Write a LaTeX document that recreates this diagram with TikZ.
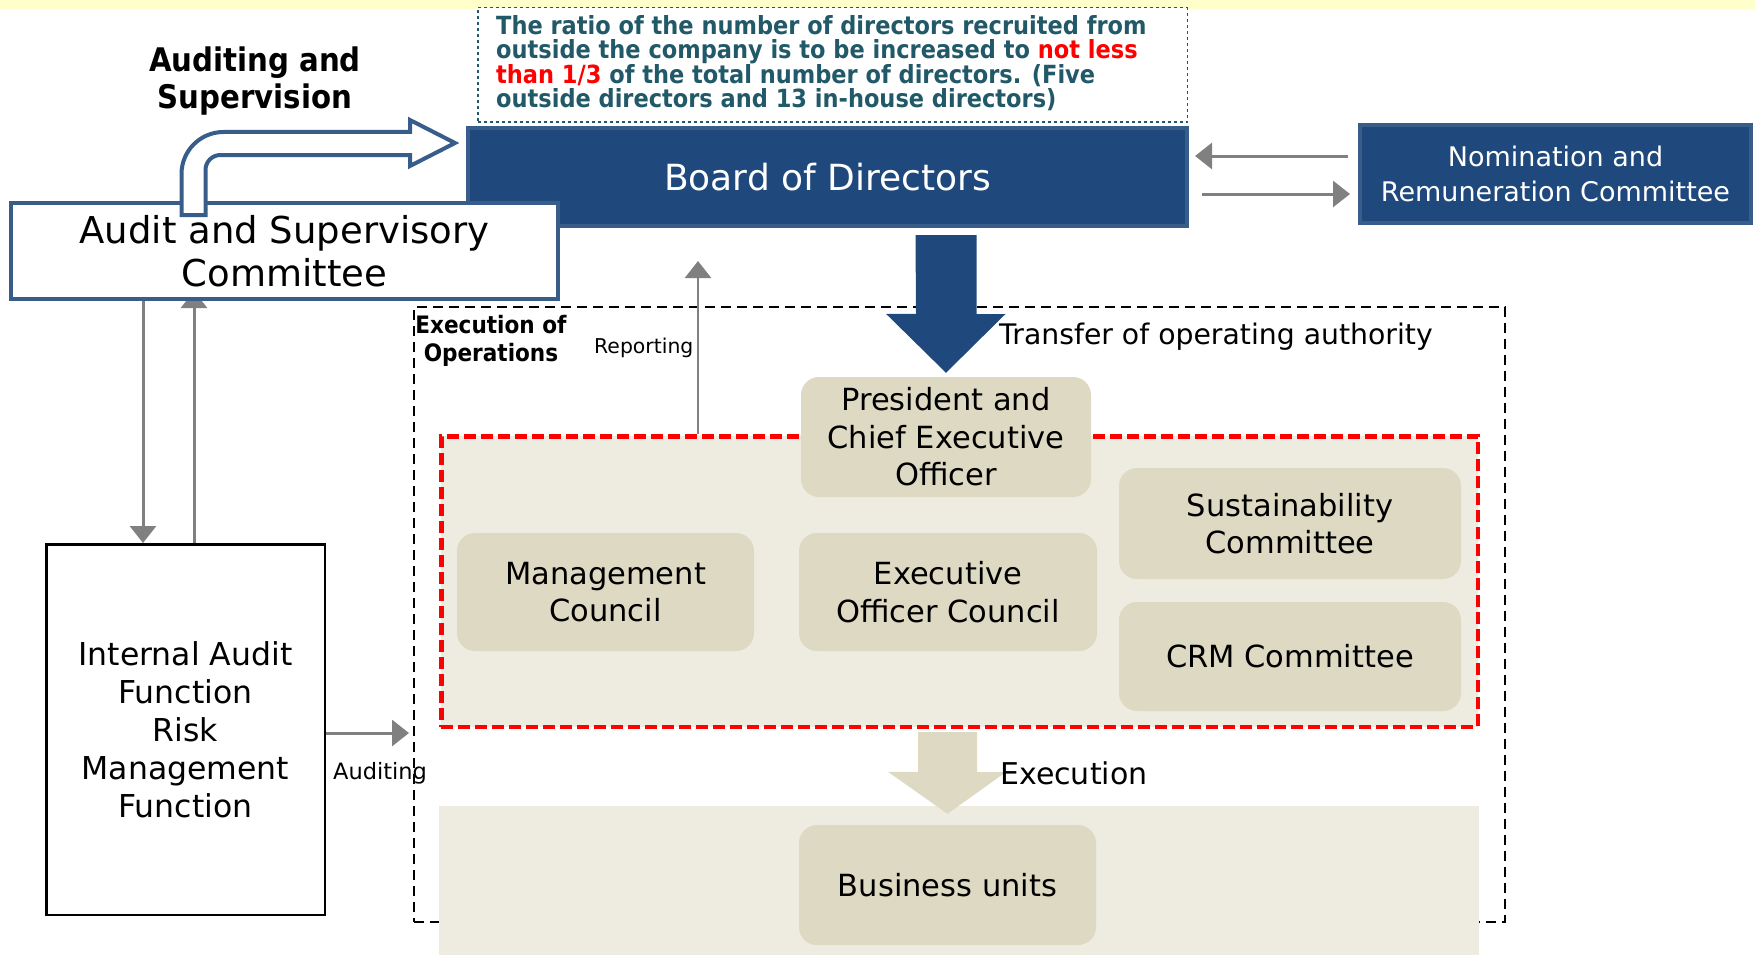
\documentclass[tikz,border=0pt]{standalone}
\usepackage{fontspec}
\setmainfont{DejaVu Sans}
\newfontfamily\condfont{DejaVu Sans Condensed}
\usetikzlibrary{arrows.meta,calc,backgrounds}

\definecolor{boardblue}{HTML}{1F497D}
\definecolor{edgeblue}{HTML}{385D8A}
\definecolor{noteteal}{HTML}{215968}
\definecolor{bandyellow}{HTML}{FFFFCC}
\definecolor{tanlight}{HTML}{EEECE1}
\definecolor{tandark}{HTML}{DDD9C3}
\definecolor{linkgray}{HTML}{808080}

\begin{document}
\begin{tikzpicture}[x=1pt, y=-1pt,
    bluebox/.style={draw=edgeblue, line width=4pt, fill=boardblue, text=white, align=center, inner sep=0pt},
    tanbox/.style={fill=tandark, rounded corners=18pt, align=center, inner sep=0pt,
        font={\fontsize{30.5}{37.5}\selectfont}},
    link/.style={draw=linkgray, line width=3pt, -{Triangle[length=17pt, width=26pt]}},
    boldlabel/.style={align=center, inner sep=0pt, font={\condfont\bfseries}},
    plainlabel/.style={inner sep=0pt, anchor=west},
]
        \useasboundingbox (0,0) rectangle (1755,955);
        \fill[bandyellow] (0,0) rectangle (1755,9);

        % board and its note
        \node[draw=noteteal, dashed, line width=1.5pt, fill=white, minimum width=709.5, minimum height=114.5] (note) at (832.5,65) {};
        \node[boldlabel, anchor=west, align=left, text=noteteal, font={\condfont\bfseries\fontsize{25}{23.7}\selectfont}] (notetext) at ([xshift=19pt, yshift=2pt]note.west)
            {The ratio of the number of directors recruited from\\
             outside the company is to be increased to \textcolor{red}{not less}\\
             \textcolor{red}{than 1/3} of the total number of directors. (Five\\
             outside directors and 13 in-house directors)};
        \node[bluebox, minimum width=719, minimum height=98, font={\fontsize{36}{43}\selectfont}] (board) at (827.5,177) {Board of Directors};
        \node[bluebox, minimum width=391, minimum height=98, font={\fontsize{27}{35}\selectfont}] (nomination) at (1555.5,174) {Nomination and\\Remuneration Committee};
        \coordinate (nrin) at ($(nomination.west)+(0,-18)$);
        \coordinate (nrout) at ($(nomination.west)+(0,20)$);
        \draw[link, shorten <=10pt, shorten >=6pt] (nrin) -- (nrin -| board.east);
        \draw[link, shorten <=13pt, shorten >=8pt] (nrout -| board.east) -- (nrout);

        % audit committee with its bent arrow
        \node[draw=edgeblue, line width=4pt, fill=white, minimum width=547, minimum height=96] (audit) at (284.5,251) {};
        \draw[edgeblue, fill=white, line width=4pt, line join=miter]
            (181.5,215) -- (181.5,174) .. controls (181.5,150.8) and (200.3,132) .. (223.5,132)
            -- (410,132) -- (410,120) -- (455,143) -- (410,166) -- (410,155) -- (220.5,155)
            .. controls (212.2,155) and (205.5,161.7) .. (205.5,170) -- (205.5,215) -- cycle;
        \node[align=center, font={\fontsize{37}{43}\selectfont}] (audittext) at (audit) {Audit and Supervisory\\Committee};
        \node[boldlabel, font={\condfont\bfseries\fontsize{32.5}{37}\selectfont}] (supervision) at (255,81.5) {Auditing and\\Supervision};

        % execution of operations
        \node[draw, dashed, dash pattern=on 10pt off 6pt, line width=2pt, minimum width=1091, minimum height=615] (ops) at (959.5,614.5) {};
        \node[boldlabel, font={\condfont\bfseries\fontsize{24}{28}\selectfont}] (opslabel) at (491,341) {Execution of\\Operations};
        \node[draw=red, fill=tanlight, dash pattern=on 12pt off 5pt, line width=4.5pt, minimum width=1036.5, minimum height=290.5] (core) at (959.5,581.5) {};
        \node[fill=tanlight, minimum width=1040, minimum height=149, inner sep=0pt] (bizpanel) at (959,880.5) {};

        \node[tanbox, minimum width=290, minimum height=120] (ceo) at (946,437) {President and\\Chief Executive\\Officer};
        \node[tanbox, minimum width=297, minimum height=118] (mgmt) at (605.5,592) {Management\\Council};
        \node[tanbox, minimum width=298, minimum height=118] (eoc) at (948,592) {Executive\\Officer Council};
        \node[tanbox, minimum width=342, minimum height=111] (sust) at (1290,523.5) {Sustainability\\Committee};
        \node[tanbox, minimum width=342, minimum height=109] (crm) at (1290,656.5) {CRM Committee};
        \node[tanbox, minimum width=297, minimum height=120] (bizunits) at (947.5,885) {Business units};

        \fill[boardblue] ($(ceo.north |- board.south)+(-30.5,7)$) -- ++(61,0) -- ++(0,79) -- ++(29,0)
            -- ($(ceo.north)+(0,-4)$) -- ++(-60,-59) -- ++(30,0) -- cycle;
        \fill[tandark] ($(core.south -| bizunits.north)+(-29.5,3)$) -- ++(59,0) -- ++(0,40) -- ++(29,0)
            -- ($(bizunits.north)+(0,-11)$) -- ++(-59.5,-42) -- ++(30,0) -- cycle;
        \node[plainlabel, font={\fontsize{28.3}{34}\selectfont}] (transfer) at (999,337) {Transfer of operating authority};
        \node[plainlabel, font={\fontsize{30}{36}\selectfont}] (execution) at (1000,773) {Execution};

        \coordinate (rep) at ($(core.north)+(-261.5,0)$);
        \draw[link, line width=2.5pt, shorten >=33pt] (rep) -- (rep |- board.south);
        \node[plainlabel, font={\fontsize{20.4}{24}\selectfont}] (reporting) at (594,348) {Reporting};

        % internal audit
        \node[draw, line width=2.5pt, minimum width=278.5, minimum height=370.5, align=center, font={\fontsize{31.5}{38}\selectfont}] (inaudit) at (185.5,729.5)
            {Internal Audit\\Function\\Risk\\Management\\Function};
        \coordinate (dn) at ($(audit.south)+(-141.5,0)$);
        \coordinate (up) at ($(inaudit.north)+(8.5,0)$);
        \draw[link] (dn) -- (dn |- inaudit.north);
        \begin{pgfonlayer}{background}
            \draw[link, shorten >=-10pt] (up) -- (up |- audit.south);
        \end{pgfonlayer}
        \coordinate (auditout) at ($(inaudit.east)+(0,3.5)$);
        \draw[link, shorten >=4pt] (auditout) -- (auditout -| ops.west);
        \node[plainlabel, font={\fontsize{22.5}{27}\selectfont}] (auditing) at (333,773) {Auditing};
\end{tikzpicture}
\end{document}
